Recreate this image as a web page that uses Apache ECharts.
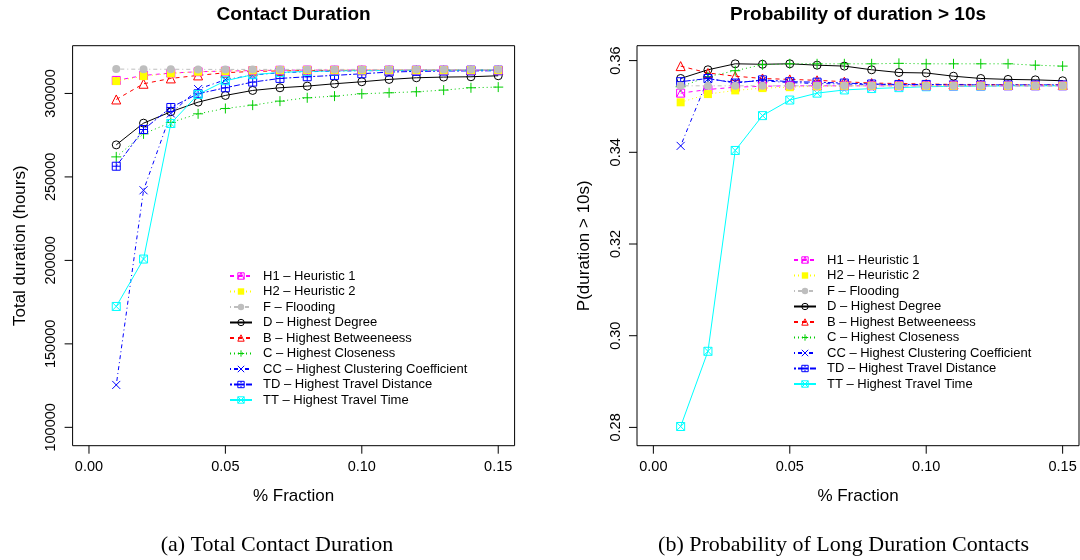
<!DOCTYPE html>
<html><head><meta charset="utf-8">
<script src="https://cdn.jsdelivr.net/npm/echarts@6/dist/echarts.min.js"></script>
<style>html,body{margin:0;padding:0;background:#fff}#c{width:1080px;height:560px}</style>
</head><body><div id="c"></div>
<script>
// ---------- data ----------
const fractions = [0.01,0.02,0.03,0.04,0.05,0.06,0.07,0.08,0.09,0.10,0.11,0.12,0.13,0.14,0.15];
const seriesNames = ['H1 \u2013 Heuristic 1','H2 \u2013 Heuristic 2','F \u2013 Flooding','D \u2013 Highest Degree','B \u2013 Highest Betweeneess','C \u2013 Highest Closeness','CC \u2013 Highest Clustering Coefficient','TD \u2013 Highest Travel Distance','TT \u2013 Highest Travel Time'];

// (a) Total contact duration (hours)
const durH1 = [307800,310800,312200,313000,313400,313700,313900,314000,314000,314000,314000,314000,314000,314000,314000];
const durH2 = [307400,310400,312000,313000,313400,313800,313900,314000,314000,314000,314000,314000,314000,314000,314000];
const durF  = [314600,314500,314500,314400,314400,314400,314400,314400,314400,314400,314300,314300,314300,314300,314300];
const durD  = [269200,282200,289000,294800,298800,301800,303400,304400,305800,307000,308400,309400,309800,310000,310600];
const durB  = [296400,305800,309000,310800,312400,313200,313500,313700,313800,313900,313900,314000,314000,314000,314000];
const durC  = [262000,275800,282600,287800,291000,293000,295400,297400,298400,299800,300400,301000,302000,303400,303800];
const durCC = [125400,242000,288000,302600,308200,311000,312400,313000,313400,313600,313700,313800,313800,313900,313900];
const durTD = [256400,278400,291600,299800,303400,306800,309000,310000,310800,311800,312800,313200,313400,313500,313600];
const durTT = [172400,200800,282000,299400,307600,311200,312600,313200,313500,313700,313800,313900,313900,314000,314000];

// (b) Probability of duration > 10s
const probH1 = [0.3529,0.3537,0.3542,0.3544,0.3545,0.3545,0.3545,0.3545,0.3545,0.3545,0.3545,0.3545,0.3545,0.3545,0.3545];
const probH2 = [0.3509,0.3527,0.3535,0.3540,0.3542,0.3544,0.3545,0.3545,0.3545,0.3545,0.3545,0.3545,0.3545,0.3545,0.3545];
const probF  = [0.3545,0.3545,0.3545,0.3545,0.3545,0.3545,0.3545,0.3545,0.3545,0.3545,0.3545,0.3545,0.3545,0.3545,0.3545];
const probD  = [0.3561,0.3580,0.3593,0.3592,0.3593,0.3590,0.3588,0.3580,0.3574,0.3573,0.3566,0.3561,0.3559,0.3558,0.3556];
const probB  = [0.3588,0.3573,0.3566,0.3561,0.3559,0.3557,0.3554,0.3551,0.3550,0.3549,0.3548,0.3548,0.3547,0.3547,0.3547];
const probC  = [0.3543,0.3565,0.3578,0.3591,0.3593,0.3593,0.3593,0.3593,0.3594,0.3593,0.3593,0.3593,0.3593,0.3590,0.3588];
const probCC = [0.3414,0.3560,0.3553,0.3556,0.3552,0.3550,0.3549,0.3548,0.3547,0.3547,0.3547,0.3546,0.3546,0.3546,0.3546];
const probTD = [0.3554,0.3561,0.3551,0.3558,0.3554,0.3553,0.3551,0.3549,0.3548,0.3548,0.3547,0.3547,0.3547,0.3547,0.3547];
const probTT = [0.2802,0.2966,0.3404,0.3480,0.3514,0.3529,0.3536,0.3539,0.3541,0.3543,0.3544,0.3544,0.3545,0.3545,0.3545];

const xTicks = [0.00,0.05,0.10,0.15];
const durTicks = [100000,150000,200000,250000,300000];
const probTicks = [0.28,0.30,0.32,0.34,0.36];

const durSeries  = [durH1,durH2,durF,durD,durB,durC,durCC,durTD,durTT];
const probSeries = [probH1,probH2,probF,probD,probB,probC,probCC,probTD,probTT];

// axis ranges (R style: data range extended by 4%)
const X_MIN = -0.006, X_MAX = 0.156;
const DUR_MIN = 89000, DUR_MAX = 328600;
const PROB_MIN = 0.27601, PROB_MAX = 0.36325;

// ---------- styles ----------
const P = {
  sqTri: 'path://M0,0L10,0L10,10L0,10ZM0,10L5,0L10,10',
  openCircle: 'path://M10,5A5,5,0,1,1,0,5A5,5,0,1,1,10,5Z',
  openTri: 'path://M5,0L10,8.66L0,8.66Z',
  plus: 'path://M5,0L5,10M0,5L10,5',
  cross: 'path://M0,0L10,10M10,0L0,10',
  sqPlus: 'path://M0,0L10,0L10,10L0,10ZM5,0L5,10M0,5L10,5',
  sqCross: 'path://M0,0L10,0L10,10L0,10ZM0,0L10,10M10,0L0,10'
};
const styles = [
  {color:'#FF00FF', dash:[4,4],     symbol:P.sqTri,      filled:false, size:8, z:3},
  {color:'#FFFF00', dash:[1,3],     symbol:'rect',       filled:true,  size:8, z:4},
  {color:'#BEBEBE', dash:[1,3,4,3], symbol:'circle',     filled:true,  size:8, z:5},
  {color:'#000000', dash:'solid',   symbol:P.openCircle, filled:false, size:8, z:2},
  {color:'#FF0000', dash:[4,4],     symbol:P.openTri,    filled:false, size:9, z:2},
  {color:'#00CD00', dash:[1,3],     symbol:P.plus,       filled:false, size:10, z:2},
  {color:'#0000FF', dash:[1,3,4,3], symbol:P.cross,      filled:false, size:8, z:2},
  {color:'#0000FF', dash:[2,2,6,2], symbol:P.sqPlus,     filled:false, size:8, z:2},
  {color:'#00FFFF', dash:'solid',   symbol:P.sqCross,    filled:false, size:8, z:2}
];

const SANS = '"Liberation Sans", Arial, Helvetica, sans-serif';
const SERIF = '"Liberation Serif", "Times New Roman", serif';

function itemStyleOf(s){
  return s.filled ? {color: s.color, borderWidth: 0}
                  : {color: 'rgba(0,0,0,0)', borderColor: s.color, borderWidth: 1};
}
function mkSeries(arrs, gi){
  return arrs.map((vals, i) => {
    const s = styles[i];
    return {
      name: seriesNames[i], type: 'line',
      xAxisIndex: gi, yAxisIndex: gi,
      data: fractions.map((f, k) => [f, vals[k]]),
      symbol: s.symbol, symbolSize: s.size, showAllSymbol: true,
      z: s.z,
      lineStyle: {color: s.color, width: 1, type: s.dash},
      itemStyle: itemStyleOf(s),
      emphasis: {disabled: true},
      animation: false
    };
  });
}
// outward tick marks, positioned through the axes' own scales
function tickSeries(gi, dir, ticks, other){
  return {
    type:'custom', xAxisIndex:gi, yAxisIndex:gi, silent:true, clip:false, z:1,
    data: ticks.map(t => dir === 'x' ? [t, other] : [other, t]),
    renderItem: (params, api) => {
      const p = api.coord([api.value(0), api.value(1)]);
      const shape = dir === 'x' ? {x1:p[0], y1:p[1], x2:p[0], y2:p[1] + 8}
                                : {x1:p[0], y1:p[1], x2:p[0] - 8, y2:p[1]};
      return {type:'line', shape:shape, style:{stroke:'#000', lineWidth:1}};
    },
    animation:false
  };
}

function xAx(gi){
  return {
    type:'value', gridIndex: gi, min:X_MIN, max:X_MAX,
    name:'% Fraction', nameLocation:'middle', nameGap:42,
    nameTextStyle:{fontFamily:SANS, fontSize:17, color:'#000'},
    axisLine:{show:false}, splitLine:{show:false}, axisTick:{show:false},
    axisLabel:{show:true, customValues:xTicks, margin:14, fontFamily:SANS, fontSize:14.5, color:'#000',
               formatter:v => v.toFixed(2)}
  };
}
function yAx(gi, min, max, ticks, name, fmt, gap){
  return {
    type:'value', gridIndex: gi, min:min, max:max,
    name:name, nameLocation:'middle', nameGap:gap,
    nameTextStyle:{fontFamily:SANS, fontSize:17, color:'#000'},
    axisLine:{show:false}, splitLine:{show:false}, axisTick:{show:false},
    axisLabel:{show:true, customValues:ticks, rotate:90, margin:14, fontFamily:SANS, fontSize:14.5, color:'#000',
               formatter:fmt}
  };
}
function legendAt(left, top){
  return {
    orient:'vertical', left:left, top:top, padding:0, selectedMode:false,
    data: seriesNames.map((n, i) => ({name:n, itemStyle:itemStyleOf(styles[i])})),
    itemWidth:22, itemHeight:8, itemGap:2.5,
    textStyle:{fontFamily:SANS, fontSize:13, color:'#000', lineHeight:13, padding:[0,0,0,6]}
  };
}

const chart = echarts.init(document.getElementById('c'), null, {renderer:'canvas'});
chart.setOption({
  animation:false,
  backgroundColor:'#fff',
  grid:[
    {left:72.6, top:45.7, width:442, height:400, show:true, borderColor:'#000', borderWidth:1, backgroundColor:'rgba(0,0,0,0)'},
    {left:637, top:45.7, width:442, height:400, show:true, borderColor:'#000', borderWidth:1, backgroundColor:'rgba(0,0,0,0)'}
  ],
  xAxis:[xAx(0), xAx(1)],
  yAxis:[
    yAx(0, DUR_MIN, DUR_MAX, durTicks, 'Total duration (hours)', v => String(v), 44),
    yAx(1, PROB_MIN, PROB_MAX, probTicks, 'P(duration > 10s)', v => v.toFixed(2), 44)
  ],
  legend:[legendAt(229, 269.5), legendAt(793, 253.5)],
  series: mkSeries(durSeries, 0).concat(mkSeries(probSeries, 1)).concat([
    tickSeries(0, 'x', xTicks, DUR_MIN),
    tickSeries(0, 'y', durTicks, X_MIN),
    tickSeries(1, 'x', xTicks, PROB_MIN),
    tickSeries(1, 'y', probTicks, X_MIN)
  ]),
  graphic:[
    {type:'text', x:293.6, y:15, style:{text:'Contact Duration', fontFamily:SANS, fontSize:19, fontWeight:'bold', fill:'#000', textAlign:'center', textVerticalAlign:'middle'}},
    {type:'text', x:858, y:15, style:{text:'Probability of duration > 10s', fontFamily:SANS, fontSize:19, fontWeight:'bold', fill:'#000', textAlign:'center', textVerticalAlign:'middle'}},
    {type:'text', x:277, y:545, style:{text:'(a) Total Contact Duration', fontFamily:SERIF, fontSize:22, fill:'#000', textAlign:'center', textVerticalAlign:'middle'}},
    {type:'text', x:843.5, y:545, style:{text:'(b) Probability of Long Duration Contacts', fontFamily:SERIF, fontSize:22, fill:'#000', textAlign:'center', textVerticalAlign:'middle'}}
  ]
});
</script></body></html>
